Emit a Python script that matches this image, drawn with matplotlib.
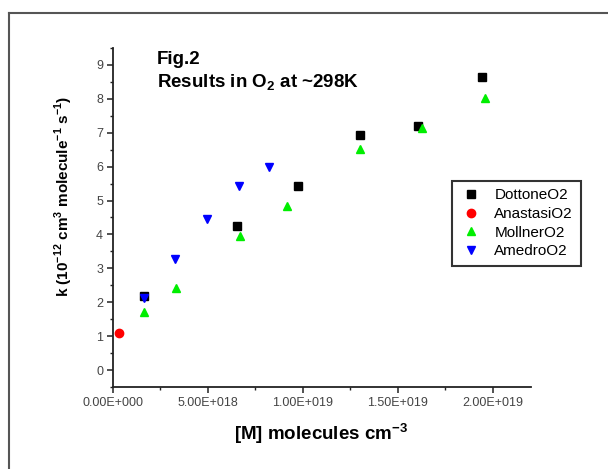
import matplotlib
matplotlib.use("Agg")
import matplotlib.pyplot as plt
from matplotlib.lines import Line2D
from matplotlib.ticker import MultipleLocator, FuncFormatter

plt.rcParams['font.family'] = ['Liberation Sans', 'DejaVu Sans']
plt.rcParams['mathtext.fontset'] = 'custom'
plt.rcParams['mathtext.rm'] = 'Liberation Sans'
plt.rcParams['mathtext.bf'] = 'Liberation Sans:bold'

# data
dottone_x = [1.66e18, 6.53e18, 9.74e18, 1.298e19, 1.605e19, 1.944e19]
dottone_y = [2.17, 4.25, 5.44, 6.94, 7.20, 8.65]
anastasi_x = [3.5e17]
anastasi_y = [1.10]
mollner_x = [1.66e18, 3.31e18, 6.67e18, 9.16e18, 1.302e19, 1.628e19, 1.96e19]
mollner_y = [1.72, 2.43, 3.95, 4.84, 6.52, 7.15, 8.02]
amedro_x = [1.66e18, 3.28e18, 4.95e18, 6.65e18, 8.24e18]
amedro_y = [2.14, 3.27, 4.45, 5.44, 6.00]

fig = plt.figure(figsize=(6.08, 4.69), dpi=100)
ax = fig.add_axes([0.1854, 0.1748, 0.688, 0.7229])

ax.plot(dottone_x, dottone_y, 's', color='black', ms=5.4, label='DottoneO2')
ax.plot(anastasi_x, anastasi_y, 'o', color='#ff0000', ms=6, label='AnastasiO2')
ax.plot(mollner_x, mollner_y, '^', color='#00ee00', ms=6, label='MollnerO2')
ax.plot(amedro_x, amedro_y, 'v', color='#0000ff', ms=6, label='AmedroO2')

ax.set_xlim(0, 2.2e19)
ax.set_ylim(-0.5, 9.5)
ax.xaxis.set_major_locator(MultipleLocator(5e18))
ax.xaxis.set_minor_locator(MultipleLocator(2.5e18))
ax.yaxis.set_major_locator(MultipleLocator(1))
ax.yaxis.set_minor_locator(MultipleLocator(0.5))


def sci(v, pos):
    m, e = f"{v:.2E}".split('E')
    e = int(e)
    return f"{m}E{'+' if e >= 0 else '-'}{abs(e):03d}"


ax.xaxis.set_major_formatter(FuncFormatter(sci))

for s in ['top', 'right']:
    ax.spines[s].set_visible(False)
for s in ['left', 'bottom']:
    ax.spines[s].set_linewidth(1.3)
    ax.spines[s].set_color('#222222')

ax.tick_params(which='major', direction='out', length=4, width=1.1,
               color='#222222', labelsize=9, labelcolor='#444444', pad=3)
ax.tick_params(which='minor', direction='out', length=2, width=1.0, color='#222222')

ax.set_xlabel(r"[M] molecules cm$^{\mathbf{-3}}$", fontsize=13.5, fontweight='bold')
ax.xaxis.set_label_coords(0.498, -0.10)
ax.set_ylabel(r"k (10$^{\mathbf{-12}}$ cm$^{\mathbf{3}}$ molecule$^{\mathbf{-1}}$ s$^{\mathbf{-1}}$)",
              fontsize=11, fontweight='bold')
ax.yaxis.set_label_coords(-0.09, 0.563)

fig.text(157 / 608, 1 - 64 / 469, "Fig.2", fontsize=13.5, fontweight='bold')
fig.text(157 / 608, 1 - 87.5 / 469, r"Results in O$_{\mathbf{2}}$ at ~298K",
         fontsize=13.5, fontweight='bold')

leg = ax.legend(loc='upper left', bbox_to_anchor=(451.6 / 608, 1 - 180.7 / 469),
                bbox_transform=fig.transFigure, fontsize=11, numpoints=1,
                fancybox=False, framealpha=1, edgecolor='#333333',
                labelspacing=0.3, handlelength=1.6, handletextpad=0.7,
                borderpad=0.5, borderaxespad=0)
leg.get_frame().set_linewidth(1.5)

# page frame (top and left edges)
fig.add_artist(Line2D([9 / 608, 607 / 608], [1 - 13 / 469, 1 - 13 / 469],
                      transform=fig.transFigure, color='#555555', lw=1.5))
fig.add_artist(Line2D([9 / 608, 9 / 608], [1 - 13 / 469, 0],
                      transform=fig.transFigure, color='#555555', lw=1.5))

fig.savefig("out.png", dpi=100)
